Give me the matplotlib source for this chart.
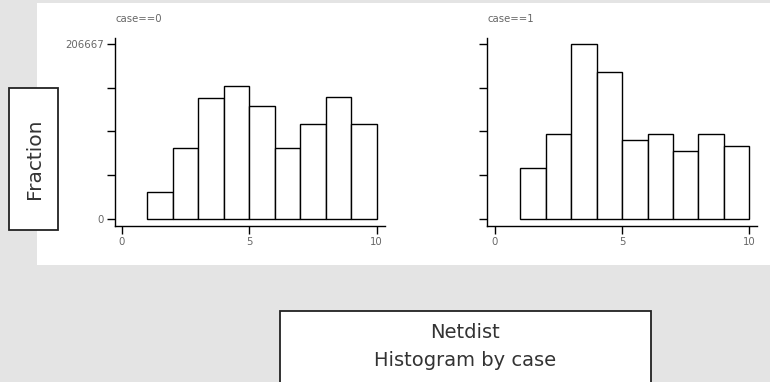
import matplotlib
matplotlib.use("Agg")
import matplotlib.pyplot as plt
from matplotlib.patches import Rectangle

# bins: 1..10, width 1
bin_edges = [1, 2, 3, 4, 5, 6, 7, 8, 9, 10]
case0 = [31400, 83500, 143200, 157500, 133900, 84300, 112600, 144500, 112600]
case1 = [59900, 100000, 206667, 174000, 93200, 100000, 80400, 100000, 86600]
titles = ["case==0", "case==1"]
ytick_vals = [0, 51667, 103333, 155000, 206667]
xtick_vals = [0, 5, 10]

W, H = 770, 382
fig = plt.figure(figsize=(W / 100, H / 100), dpi=100)
fig.patch.set_facecolor("#e4e4e4")

def px(x, y, w, h):
    # pixel box (top-left origin) -> figure fraction
    return [x / W, 1 - (y + h) / H, w / W, h / H]

# white plot region (behind the axes)
r = px(37, 3, 740, 262)
fig.patches.append(Rectangle((r[0], r[1]), r[2], r[3], transform=fig.transFigure,
                             facecolor="white", edgecolor="none", zorder=-5))

panels = [
    (case0, titles[0], 115, -0.276, 10.31, True),
    (case1, titles[1], 487.3, -0.303, 10.30, False),
]
for data, title, left_px, x0, x1, show_labels in panels:
    ax = fig.add_axes(px(left_px, 38, 269.5, 188))
    ax.set_facecolor("none")
    widths = [bin_edges[i + 1] - bin_edges[i] for i in range(len(data))]
    ax.bar(bin_edges[:-1], data, width=widths, align="edge",
           color="white", edgecolor="black", linewidth=1.0)
    ax.set_xlim(x0, x1)
    ax.set_ylim(-8267, 213750)
    for s in ["top", "right"]:
        ax.spines[s].set_visible(False)
    for s in ["left", "bottom"]:
        ax.spines[s].set_linewidth(1.0)
    ax.set_yticks(ytick_vals)
    if show_labels:
        ax.set_yticklabels(["0", "", "", "", "206667"])
    else:
        ax.set_yticklabels([])
    ax.set_xticks(xtick_vals)
    ax.tick_params(axis="both", length=6, width=1.0, labelsize=7.3,
                   labelcolor="#666666", pad=2)
    ax.text(0.0, 1.075, title, transform=ax.transAxes, fontsize=7.3,
            color="#666666", ha="left", va="bottom")

# "Fraction" box
r = px(9, 88, 49, 142)
fig.patches.append(Rectangle((r[0], r[1]), r[2], r[3], transform=fig.transFigure,
                             facecolor="white", edgecolor="#222222", linewidth=1.3, zorder=2))
fig.text((9 + 25) / W, 1 - 159 / H, "Fraction", rotation=90, ha="center", va="center",
         fontsize=14.5, color="#333333", zorder=3)

# bottom caption box
r = px(280, 311, 371, 80)
fig.patches.append(Rectangle((r[0], r[1]), r[2], r[3], transform=fig.transFigure,
                             facecolor="white", edgecolor="#222222", linewidth=1.3, zorder=2))
fig.text(465 / W, 1 - 333 / H, "Netdist", ha="center", va="center",
         fontsize=14, color="#333333", zorder=3)
fig.text(465 / W, 1 - 361 / H, "Histogram by case", ha="center", va="center",
         fontsize=14, color="#333333", zorder=3)

fig.savefig("out.png", dpi=100, facecolor=fig.get_facecolor())
